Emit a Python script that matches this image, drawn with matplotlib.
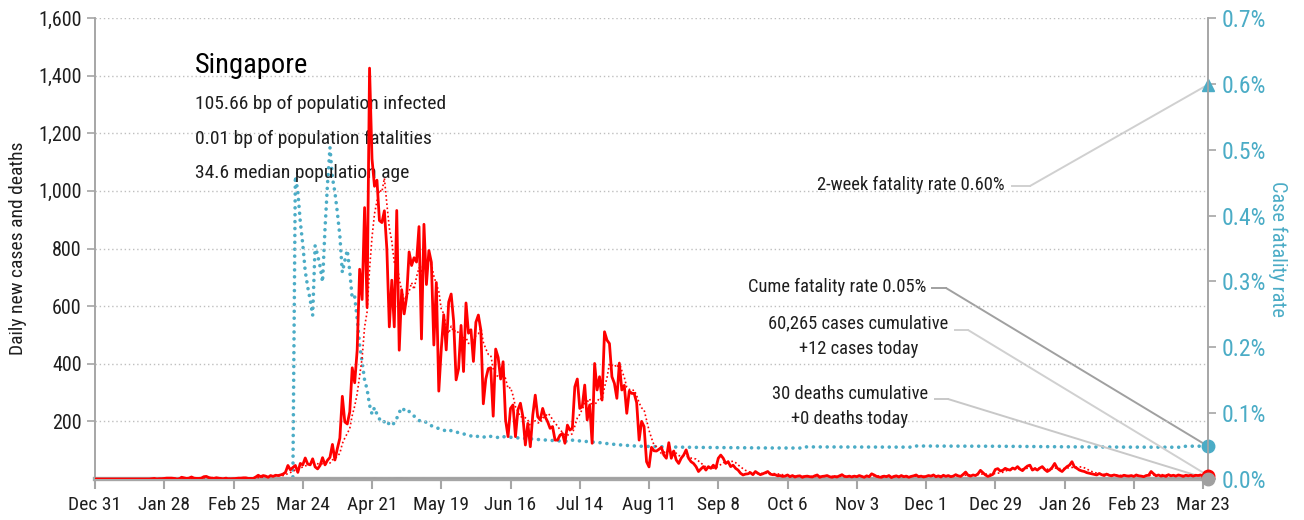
import numpy as np
import pandas as pd
import matplotlib
matplotlib.use('Agg')
import matplotlib.pyplot as plt
import matplotlib.dates as mdates
from matplotlib import font_manager
from matplotlib.ticker import FuncFormatter

# daily new cases, one list per month (Dec 31 2019 .. Mar 25 2021)
cases_dec19 = [0]
cases_jan20 = [0, 0, 0, 0, 0, 0, 0, 0, 0, 0, 0, 0, 0, 0, 0, 0, 0, 0, 0, 0, 0, 0,
               1, 2, 0, 1, 1, 2, 3, 3, 3]
cases_feb20 = [2, 0, 0, 6, 4, 2, 3, 7, 3, 2, 2, 3, 8, 9, 5, 3, 2, 4, 3, 1,
               1, 3, 0, 1, 1, 2, 3, 3, 4]
cases_mar20 = [4, 2, 2, 2, 7, 13, 8, 12, 10, 6, 12, 9, 13, 12, 14, 17, 23, 47, 32, 40,
               47, 23, 54, 49, 73, 52, 49, 70, 42, 35, 47]
cases_apr20 = [74, 49, 65, 75, 120, 66, 106, 142, 287, 198, 191, 233, 386, 334, 447,
               728, 623, 942, 596, 1426, 1111, 1016, 1037, 897, 890, 931, 799, 528, 690, 528]
cases_may20 = [932, 447, 657, 573, 632, 788, 741, 768, 753, 876, 486, 884, 675, 793, 752,
               465, 682, 305, 451, 570, 448, 614, 642, 548, 344, 383, 533, 373, 611, 506, 518]
cases_jun20 = [408, 544, 569, 517, 261, 347, 383, 386, 218, 451, 422, 347, 407, 205, 147,
               245, 257, 147, 240, 263, 216, 118, 193, 112, 222, 291, 216, 205, 245, 216]
cases_jul20 = [199, 176, 182, 135, 135, 152, 158, 124, 187, 170, 176, 320, 347, 245, 251,
               326, 205, 257, 124, 401, 309, 355, 274, 511, 482, 470, 355, 332, 280, 401, 309]
cases_aug20 = [325, 228, 305, 297, 297, 265, 135, 200, 182, 60, 42, 110, 98, 97, 103,
               110, 83, 72, 126, 72, 97, 66, 54, 72, 83, 101, 72, 60, 54, 43, 26]
cases_sep20 = [35, 43, 31, 43, 37, 48, 37, 72, 83, 72, 54, 60, 43, 48, 37,
               31, 20, 14, 17, 18, 22, 15, 26, 20, 15, 18, 22, 26, 17, 15]
cases_oct20 = [15, 11, 12, 9, 10, 14, 8, 12, 7, 10, 11, 6, 9, 10, 8, 7,
               11, 14, 6, 9, 10, 12, 8, 6, 9, 7, 11, 15, 9, 8, 10]
cases_nov20 = [7, 10, 8, 12, 9, 6, 11, 8, 18, 14, 9, 7, 6, 10, 8,
               12, 5, 9, 11, 7, 12, 8, 10, 6, 9, 11, 14, 8, 10, 7]
cases_dec20 = [9, 12, 10, 14, 8, 11, 7, 13, 9, 12, 8, 10, 15, 11, 9, 16,
               24, 13, 10, 14, 12, 18, 30, 22, 14, 9, 12, 16, 33, 36, 28]
cases_jan21 = [30, 37, 33, 31, 38, 35, 43, 34, 29, 38, 45, 48, 31, 36, 31, 38,
               43, 33, 26, 31, 40, 54, 38, 31, 26, 35, 43, 48, 60, 42, 37]
cases_feb21 = [31, 28, 26, 22, 20, 18, 16, 14, 19, 15, 12, 17, 13, 11,
               14, 12, 10, 9, 13, 11, 10, 12, 9, 14, 11, 10, 8, 12]
cases_mar21 = [13, 26, 18, 11, 14, 10, 12, 9, 15, 11, 13, 10, 14,
               12, 9, 13, 11, 13, 10, 13, 12, 14, 11, 13, 12]

# deaths by report date
death_dates = ['2020-03-21', '2020-03-29', '2020-04-02', '2020-04-03', '2020-04-04',
               '2020-04-10', '2020-04-11', '2020-04-14', '2020-04-22', '2020-04-25',
               '2020-04-28', '2020-04-30', '2020-05-01', '2020-05-02', '2020-05-03',
               '2020-05-05', '2020-05-12', '2020-05-22', '2020-06-03', '2020-06-08',
               '2020-06-13', '2020-07-11', '2020-10-13', '2020-11-27', '2021-03-16']
death_counts = [2, 1, 1, 1, 1, 1, 1, 1, 2, 1, 1, 1, 2, 2, 2, 1, 1, 1, 1, 1, 1, 1, 1, 1, 1]

country = 'Singapore'
stats_lines = ['105.66 bp of population infected',
               '0.01 bp of population fatalities',
               '34.6 median population age']
x_tick_start = '2019-12-31'

RED = '#FF0000'
BLUE = '#4BACC6'
GREY = '#A6A6A6'
TEXT = '#1E1E1E'

avail = {f.name for f in font_manager.fontManager.ttflist}
for fam in ['Roboto Condensed', 'Liberation Sans Narrow', 'DejaVu Sans']:
    if fam in avail:
        break
plt.rcParams['font.family'] = [fam, 'DejaVu Sans']

cases = pd.Series(np.concatenate([cases_dec19, cases_jan20, cases_feb20, cases_mar20,
                                  cases_apr20, cases_may20, cases_jun20, cases_jul20,
                                  cases_aug20, cases_sep20, cases_oct20, cases_nov20,
                                  cases_dec20, cases_jan21, cases_feb21, cases_mar21]).astype(int))
dates = pd.date_range(x_tick_start, periods=len(cases), freq='D')
cases.index = dates
deaths = pd.Series(0, index=dates)
for d, n in zip(death_dates, death_counts):
    deaths[pd.Timestamp(d)] += n

avg7 = cases.rolling(7, min_periods=1).mean()
cum_cases = cases.cumsum()
cum_deaths = deaths.cumsum()
cfr = (cum_deaths / cum_cases.where(cum_cases > 0)).fillna(0) * 100
cfr_2wk = deaths.iloc[-14:].sum() / cases.iloc[-14:].sum() * 100

fig = plt.figure(figsize=(13.04, 5.2), dpi=100)
ax = fig.add_axes([95 / 1304, 41 / 520, 1113 / 1304, 461 / 520])
ax2 = ax.twinx()
ax.set_zorder(2)
ax.patch.set_visible(False)

# fatality rate on the right axis
ax2.plot(dates, cfr, color=BLUE, lw=2.6, linestyle=(0, (0.01, 1.9)),
         dash_capstyle='round', zorder=2)
ax2.plot(dates[-1], cfr.iloc[-1], 'o', color=BLUE, ms=9, clip_on=False, zorder=5)
ax2.plot(dates[-1], cfr_2wk, '^', color=BLUE, ms=9, clip_on=False, zorder=5)
ax2.set_ylim(0, 0.7)
ax2.set_yticks(np.arange(0, 0.71, 0.1))
ax2.yaxis.set_major_formatter(FuncFormatter(lambda v, p: f'{v:.1f}%'))
ax2.tick_params(axis='y', colors=GREY, labelcolor=BLUE, labelsize=17, length=6, width=1.2)
ax2.set_ylabel('Case fatality rate', color=BLUE, fontsize=14.6, rotation=270, labelpad=16)

# cases and deaths on the left axis
ax.plot(dates, deaths, color='#A0A0A0', lw=1.5, zorder=3)
ax.plot(dates, avg7, color=RED, lw=1.2, linestyle=(0, (1, 1.5)), zorder=3)
ax.plot(dates, cases, color=RED, lw=2, zorder=4)
ax.plot(dates[-1], cases.iloc[-1], 'o', color=RED, ms=9, clip_on=False, zorder=5)
ax.plot(dates[-1], deaths.iloc[-1], 'o', color='#A0A0A0', ms=9, clip_on=False, zorder=6)

ax.set_xlim(dates[0], dates[-1])
ax.set_ylim(0, 1600)
ax.set_yticks(np.arange(200, 1601, 200))
ax.yaxis.set_major_formatter(FuncFormatter(lambda v, p: f'{v:,.0f}'))
ax.grid(axis='y', color='#BFBFBF', linestyle=(0, (1, 2)), lw=1)
ax.set_ylabel('Daily new cases and deaths', color=TEXT, fontsize=14, labelpad=8)

ax.set_xticks(pd.date_range(x_tick_start, dates[-1], freq='28D'))
ax.xaxis.set_major_formatter(mdates.DateFormatter('%b %-d'))
ax.tick_params(axis='x', colors=GREY, labelcolor=TEXT, labelsize=14, length=7, width=1.5, pad=5)
ax.tick_params(axis='y', colors=GREY, labelcolor=TEXT, labelsize=14.5, length=6, width=1.2)

for a in (ax, ax2):
    a.spines['top'].set_visible(False)
    a.spines['left'].set_color(GREY)
    a.spines['right'].set_color(GREY)
    a.spines['left'].set_linewidth(1.2)
    a.spines['right'].set_linewidth(1.2)
    a.spines['bottom'].set_color(GREY)
    a.spines['bottom'].set_linewidth(3)

# title block
ax.text(0.09, 0.898, country, transform=ax.transAxes, fontsize=20.5, color='black', va='center')
for i, line in enumerate(stats_lines):
    ax.text(0.09, 0.813 - i * 0.075, line, transform=ax.transAxes, fontsize=14,
            color=TEXT, va='center')

# callouts with leader lines to the latest values
callouts = [
    (f'2-week fatality rate {cfr_2wk:.2f}%', 0.8176, 0.6377, 'right',
     (0.8239, 0.8401, 0.6356), ax2, cfr_2wk, '#D0D0D0'),
    (f'Cume fatality rate {cfr.iloc[-1]:.2f}%', 0.7466, 0.4165, 'right',
     (0.752, 0.7646, 0.4143), ax2, cfr.iloc[-1], '#A0A0A0'),
    (f'{cum_cases.iloc[-1]:,} cases cumulative\n+{cases.iloc[-1]} cases today', 0.686, 0.31, 'center',
     (0.7727, 0.7844, 0.3232), ax, cases.iloc[-1], '#D0D0D0'),
    (f'{cum_deaths.iloc[-1]} deaths cumulative\n+{deaths.iloc[-1]} deaths today', 0.678, 0.158, 'center',
     (0.7547, 0.7664, 0.1735), ax, deaths.iloc[-1], '#C8C8C8'),
]
for label, tx, ty, ha, (x0, x1, yl), target_ax, target_val, lc in callouts:
    ax.text(tx, ty, label, transform=ax.transAxes, fontsize=13.3, color=TEXT,
            ha=ha, va='center', multialignment='center', linespacing=1.5, zorder=7)
    ax.plot([x0, x1], [yl, yl], color=lc, lw=1.4, transform=ax.transAxes, clip_on=False, zorder=1)
    target_ax.annotate('', xy=(dates[-1], target_val), xycoords='data',
                       xytext=(x1, yl), textcoords=ax.transAxes,
                       arrowprops=dict(arrowstyle='-', color=lc, lw=1.4,
                                       shrinkA=0, shrinkB=0), zorder=1)

fig.savefig('out.png', dpi=100)
